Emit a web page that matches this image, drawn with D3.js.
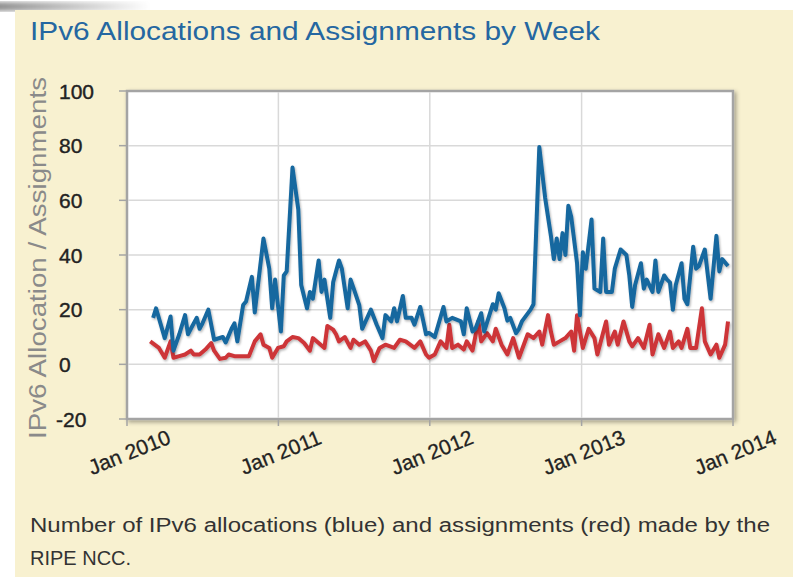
<!DOCTYPE html>
<html>
<head>
<meta charset="utf-8">
<script src="https://cdn.jsdelivr.net/npm/d3@7"></script>
<style>
  body { margin: 0; background: #fff; }
  text { font-family: "Liberation Sans", Arial, sans-serif; }
</style>
</head>
<body>
<div id="chart"></div>
<script>
const width = 793;
const height = 577;

// weeks counted from 1 Jan 2010
const firstDay = new Date(2010, 0, 1);
const tickYears = [2010, 2011, 2012, 2013, 2014];
const yTicks = [-20, 0, 20, 40, 60, 80, 100];

const allocWeeks = [9, 10, 13, 15, 16, 18, 20, 21, 22, 24, 25, 26, 28, 30, 33, 34, 36, 37, 38, 40,
  41, 43, 44, 47, 49, 50, 51, 53, 54, 55, 57, 59, 60, 62, 63, 64, 66, 67, 68, 70,
  71, 73, 74, 76, 77, 78, 80, 81, 84, 86, 88, 89, 91, 92, 93, 95, 96, 98, 99, 101,
  103, 104, 106, 109, 110, 112, 115, 116, 117, 119, 120, 122, 123, 126, 127, 128, 130, 131, 132, 134,
  135, 136, 139, 140, 142, 144, 146, 147, 148, 149, 150, 151, 152, 153, 155, 156, 157, 158, 160, 161,
  163, 164, 165, 167, 168, 170, 172, 173, 174, 175, 177, 178, 179, 181, 182, 183, 185, 186, 187, 188,
  189, 191, 192, 193, 195, 196, 197, 199, 201, 203, 204, 205, 207];
const allocations = [17, 20.5, 9.6, 17.5, 5, 11, 18, 11, 13, 17, 13, 15, 20, 9, 10, 8, 13, 15, 8.4, 21.7,
  23, 32, 19, 46, 35, 20.5, 31, 12, 32.5, 34, 72, 56.6, 29, 20.5, 26.5, 24, 38, 26.5, 31, 17,
  30, 38, 35, 20.5, 31, 28, 21.7, 13, 20, 14.5, 9.6, 18, 15.7, 20.5, 15.7, 25, 17, 17, 14.5, 21,
  11, 11.5, 10, 21, 15.7, 17, 15.7, 11, 20.5, 12, 13, 18.7, 12, 22, 20, 26, 20.5, 16, 17, 11.4,
  13, 15.7, 20, 22, 79.5, 61, 47, 38.5, 46, 38.5, 48, 40, 58, 54, 37, 18, 41, 35, 53, 27.7,
  26.5, 46, 26.5, 26.5, 35, 42, 40, 32.5, 21, 29, 37, 27.7, 31, 26.5, 38, 26.5, 32.5, 31, 30, 20,
  29, 37, 24, 22, 43, 35, 36, 42, 24, 47, 34, 38.5, 36];

const assignWeeks = [8, 11, 13, 15, 16, 18, 20, 22, 23, 25, 27, 29, 30, 32, 34, 35, 37, 39, 42, 44,
  46, 47, 49, 50, 52, 54, 55, 57, 59, 61, 63, 64, 66, 68, 69, 71, 72, 73, 75, 77,
  78, 80, 82, 84, 85, 87, 89, 92, 94, 96, 99, 101, 103, 104, 106, 108, 110, 111, 112, 114,
  116, 117, 119, 121, 122, 124, 126, 127, 129, 131, 133, 134, 135, 138, 140, 142, 143, 145, 146, 147,
  149, 151, 153, 154, 155, 157, 159, 161, 162, 165, 166, 168, 169, 171, 173, 174, 176, 178, 180, 181,
  183, 185, 187, 188, 190, 191, 193, 194, 196, 198, 199, 201, 203, 204, 206, 207];
const assignments = [8.4, 6, 2.4, 8.4, 2.4, 3, 3.6, 5, 3.6, 3.6, 5.4, 7.8, 5, 2, 2.4, 3.6, 3, 3, 3, 8.4,
  11, 7.2, 6, 2.4, 6, 6.6, 8.4, 10, 9.6, 7.8, 5, 9.6, 7.8, 6, 14, 12.7, 11, 8.4, 10, 6,
  9, 7.2, 8.4, 5, 1.2, 6, 7.2, 6, 9, 8.4, 6, 8.4, 3.6, 2.4, 3.6, 8.4, 6, 14.5, 6, 7.2,
  5.4, 8.4, 5, 15.7, 8.4, 11.4, 8.4, 13, 7.2, 3.6, 9.6, 6, 2.4, 11, 9.6, 12, 7.2, 18, 12, 7.2,
  8.4, 9.6, 12, 5, 18, 6, 13, 9.6, 3.6, 15.7, 7.2, 12, 7.2, 15.7, 8.4, 6.6, 9.6, 6, 14.5, 3.6,
  11, 6, 12, 6, 8.4, 6, 13, 6, 6, 20.5, 8.4, 3.6, 7.2, 2.4, 7.2, 15.7];

const weekDate = (w) => d3.timeDay.offset(firstDay, 7 * w);
const allocData = allocWeeks.map((w, i) => ({ date: weekDate(w), value: allocations[i] }));
const assignData = assignWeeks.map((w, i) => ({ date: weekDate(w), value: assignments[i] }));

const svg = d3.select('#chart').append('svg')
  .attr('width', width)
  .attr('height', height);

const defs = svg.append('defs');
defs.append('filter').attr('id', 'lineShadow')
  .attr('x', '-5%').attr('y', '-10%').attr('width', '110%').attr('height', '120%')
  .append('feDropShadow')
  .attr('dx', 1).attr('dy', 1.5).attr('stdDeviation', 1.2)
  .attr('flood-color', '#000').attr('flood-opacity', 0.3);
defs.append('filter').attr('id', 'frameShadow')
  .attr('x', '-5%').attr('y', '-5%').attr('width', '112%').attr('height', '112%')
  .append('feDropShadow')
  .attr('dx', 2).attr('dy', 2).attr('stdDeviation', 2)
  .attr('flood-color', '#000').attr('flood-opacity', 0.35);
const grad = defs.append('linearGradient').attr('id', 'tabShade');
grad.append('stop').attr('offset', '0%').attr('stop-color', '#8c8c8c');
grad.append('stop').attr('offset', '100%').attr('stop-color', '#fff');
defs.append('filter').attr('id', 'blur')
  .append('feGaussianBlur').attr('stdDeviation', 2);

// page background
svg.append('rect').attr('width', width).attr('height', height).attr('fill', '#fff');
svg.append('rect')
  .attr('x', -10).attr('y', 2).attr('width', 160).attr('height', 9).attr('rx', 4)
  .attr('fill', 'url(#tabShade)').attr('filter', 'url(#blur)');
svg.append('rect')
  .attr('x', 15).attr('y', 10).attr('width', width - 15).attr('height', height - 10)
  .attr('fill', '#f8f1d0');

svg.append('text')
  .attr('x', 30).attr('y', 40)
  .attr('font-size', 25)
  .attr('fill', '#2567a1')
  .attr('textLength', 570)
  .attr('lengthAdjust', 'spacingAndGlyphs')
  .text('IPv6 Allocations and Assignments by Week');

const x = d3.scaleTime()
  .domain([new Date(2010, 0, 1), new Date(2014, 0, 1)])
  .range([127, 733]);
const y = d3.scaleLinear()
  .domain([-20, 100])
  .range([419, 91]);

// plot frame
svg.append('rect')
  .attr('x', 127).attr('y', 91).attr('width', 606).attr('height', 328)
  .attr('fill', '#fff')
  .attr('stroke', '#a4a4a4').attr('stroke-width', 2.5)
  .attr('filter', 'url(#frameShadow)');

const grid = svg.append('g');
grid.selectAll('line.h').data(yTicks.slice(1, -1)).join('line')
  .attr('class', 'h')
  .attr('x1', 128).attr('x2', 732)
  .attr('y1', (d) => y(d)).attr('y2', (d) => y(d))
  .attr('stroke', '#d9d9d9').attr('stroke-width', 1.5);
const yearDates = tickYears.map((yr) => new Date(yr, 0, 1));
grid.selectAll('line.v').data(yearDates.slice(1, -1)).join('line')
  .attr('class', 'v')
  .attr('x1', (d) => x(d)).attr('x2', (d) => x(d))
  .attr('y1', 92).attr('y2', 418)
  .attr('stroke', '#d9d9d9').attr('stroke-width', 1.5);

// ticks on the axes
svg.append('g').selectAll('line').data(yTicks).join('line')
  .attr('x1', 119).attr('x2', 127)
  .attr('y1', (d) => y(d)).attr('y2', (d) => y(d))
  .attr('stroke', '#a4a4a4').attr('stroke-width', 1.5);
svg.append('g').selectAll('line').data(yearDates).join('line')
  .attr('x1', (d) => x(d)).attr('x2', (d) => x(d))
  .attr('y1', 419).attr('y2', 426)
  .attr('stroke', '#a4a4a4').attr('stroke-width', 1.5);

svg.append('g').selectAll('text').data(yTicks).join('text')
  .attr('x', (d) => (d < 0 ? 56 : 59))
  .attr('y', (d) => y(d))
  .attr('dy', '0.36em')
  .attr('font-size', 21)
  .attr('fill', '#222')
  .attr('stroke', '#222').attr('stroke-width', 0.4)
  .text((d) => d);

const fmt = d3.timeFormat('Jan %Y');
svg.append('g').selectAll('text').data(yearDates).join('text')
  .attr('transform', (d) => `translate(${x(d) + 5},${459}) rotate(-22)`)
  .attr('text-anchor', 'middle')
  .attr('font-size', 21)
  .attr('fill', '#222')
  .attr('stroke', '#222').attr('stroke-width', 0.3)
  .text(fmt);

svg.append('text')
  .attr('transform', 'translate(46,258) rotate(-90)')
  .attr('text-anchor', 'middle')
  .attr('font-size', 23)
  .attr('fill', '#8a8a8a')
  .attr('textLength', 362)
  .attr('lengthAdjust', 'spacingAndGlyphs')
  .text('IPv6 Allocation / Assignments');

const line = d3.line()
  .x((d) => x(d.date))
  .y((d) => y(d.value));

svg.append('path')
  .datum(assignData)
  .attr('d', line)
  .attr('fill', 'none')
  .attr('stroke', '#cd3439')
  .attr('stroke-width', 4)
  .attr('stroke-linejoin', 'round')
  .attr('filter', 'url(#lineShadow)');

svg.append('path')
  .datum(allocData)
  .attr('d', line)
  .attr('fill', 'none')
  .attr('stroke', '#18679f')
  .attr('stroke-width', 4)
  .attr('stroke-linejoin', 'round')
  .attr('filter', 'url(#lineShadow)');

const caption = svg.append('text')
  .attr('font-size', 20)
  .attr('fill', '#333');
caption.append('tspan')
  .attr('x', 30).attr('y', 532)
  .attr('textLength', 740)
  .attr('lengthAdjust', 'spacingAndGlyphs')
  .text('Number of IPv6 allocations (blue) and assignments (red) made by the');
caption.append('tspan')
  .attr('x', 30).attr('y', 565)
  .text('RIPE NCC.');
</script>
</body>
</html>
